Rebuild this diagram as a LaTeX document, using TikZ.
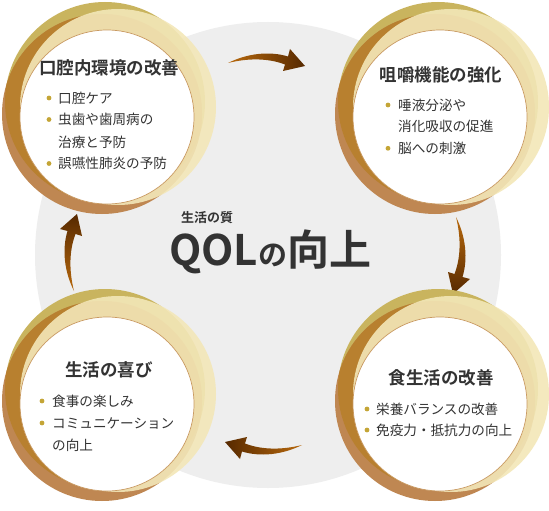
\documentclass[tikz,border=0pt]{standalone}
\usepackage{fontspec}
\setmainfont{Noto Sans CJK JP}[BoldFont={Noto Sans CJK JP Bold}]
\definecolor{cgold}{HTML}{C9B45E}
\definecolor{cbrown}{HTML}{BF8752}
\definecolor{cpale}{HTML}{F3E7B8}
\definecolor{camber}{HTML}{B8802F}
\definecolor{cedge}{HTML}{C99A62}
\definecolor{cgrey}{HTML}{EEEEEE}
\definecolor{ctext}{HTML}{333333}
\definecolor{cdot}{HTML}{C4A536}
\definecolor{carrowA}{HTML}{B8690D}
\definecolor{carrowB}{HTML}{562900}
\tikzset{
  ttl/.style={text=ctext, font=\fontsize{17.5pt}{20pt}\selectfont\bfseries, inner sep=0pt},
  btxt/.style={text=ctext, font=\fontsize{13.6pt}{16pt}\selectfont, inner sep=0pt, anchor=west},
  whitedisc/.style={circle, fill=white, draw=cedge, line width=0.7pt, minimum size=174pt, inner sep=0pt},
}
\newcommand\ringset[3]{%
  \begin{scope}[shift={(#2,#3)}]
    \fill[cgold] (-2,-15) circle[radius=100];
    \fill[cbrown] (-5,-3) circle[radius=100];
    \begin{scope}
      \clip (-2,-15) circle[radius=100];
      \fill[camber] (-5,-3) circle[radius=100];
    \end{scope}
    \fill[cpale, opacity=0.9] (11,-10) circle[radius=98];
    \node[whitedisc] (#1) at (0,0) {};
  \end{scope}}
\newcommand\bdot[2]{\fill[cdot] (#1,#2) circle[radius=2.4];}
\begin{document}
\begin{tikzpicture}[x=1pt,y=-1pt]
\useasboundingbox (0,0) rectangle (549,511);
\fill[white] (0,0) rectangle (549,511);
% background disc
\fill[cgrey] (268,255) circle[radius=233];
% centre text
\node[text=ctext, font=\fontsize{13pt}{15pt}\selectfont\bfseries, inner sep=0pt] (sub) at (207,218) {生活の質};
\node[text=ctext, font=\fontsize{42pt}{46pt}\selectfont\bfseries, inner sep=0pt, anchor=base west] (qol) at (169,265) {QOL{\fontsize{29pt}{32pt}\selectfont の}向上};
% arrows
\shade[left color=carrowA, right color=carrowB]
  (228,63) .. controls (248,53) and (270,51) .. (288,56.5) -- (290,49) -- (305,66) -- (283,71) -- (285,64.5) .. controls (268,58) and (248,58) .. (228,63) -- cycle;
\shade[top color=carrowA, bottom color=carrowB]
  (456,217) .. controls (466,237) and (468,259) .. (462.5,277) -- (470,279) -- (453,294) -- (448,272) -- (454.5,274) .. controls (461,257) and (461,237) .. (456,217) -- cycle;
\shade[left color=carrowB, right color=carrowA]
  (302,445) .. controls (282,455) and (260,457) .. (242,451.5) -- (240,459) -- (225,442) -- (247,437) -- (245,443.5) .. controls (262,450) and (282,450) .. (302,445) -- cycle;
\shade[top color=carrowB, bottom color=carrowA]
  (74,291) .. controls (64,271) and (62,249) .. (67.5,231) -- (60,229) -- (77,214) -- (82,236) -- (75.5,234) .. controls (69,251) and (69,271) .. (74,291) -- cycle;
% rings
\ringset{tl}{107}{117}
\ringset{tr}{440}{117}
\ringset{bl}{107}{404}
\ringset{br}{440}{404}
% top left
\node[ttl] (tlt) at (109,68) {口腔内環境の改善};
\bdot{49}{98}\node[btxt] (tl1) at (58,98) {口腔ケア};
\bdot{49}{119.5}\node[btxt] (tl2) at (58,119.5) {虫歯や歯周病の};
\node[btxt] (tl3) at (58,142) {治療と予防};
\bdot{49}{163.5}\node[btxt] (tl4) at (58,163.5) {誤嚥性肺炎の予防};
% top right
\node[ttl] (trt) at (441,75) {咀嚼機能の強化};
\bdot{388}{105}\node[btxt] (tr1) at (398,105) {唾液分泌や};
\node[btxt] (tr2) at (398,126.7) {消化吸収の促進};
\bdot{388}{148.3}\node[btxt] (tr3) at (398,148.3) {脳への刺激};
% bottom left
\node[ttl] (blt) at (109,370) {生活の喜び};
\bdot{42}{401}\node[btxt] (bl1) at (52,401) {食事の楽しみ};
\bdot{42}{423}\node[btxt] (bl2) at (52,423) {コミュニケーション};
\node[btxt] (bl3) at (52,445) {の向上};
% bottom right
\node[ttl] (brt) at (441,378) {食生活の改善};
\bdot{367}{409}\node[btxt] (br1) at (376,409) {栄養バランスの改善};
\bdot{367}{430}\node[btxt] (br2) at (376,430) {免疫力・抵抗力の向上};
\end{tikzpicture}
\end{document}
